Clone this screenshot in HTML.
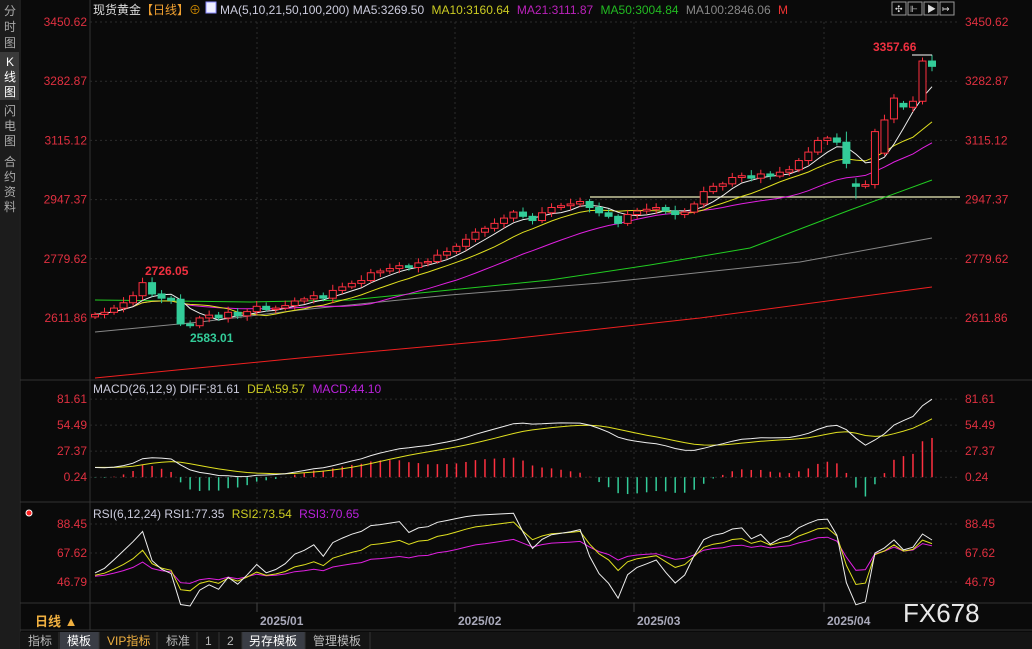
<!DOCTYPE html>
<html><head><meta charset="utf-8"><style>
body{margin:0;background:#0a0a0a;width:1032px;height:649px;overflow:hidden;font-family:"Liberation Sans","Noto Sans CJK SC",sans-serif}
svg{position:absolute;left:0;top:0}
</style></head><body>
<svg id="s" width="1032" height="649" xmlns="http://www.w3.org/2000/svg" font-family="Liberation Sans, Noto Sans CJK SC, sans-serif">
<rect width="1032" height="649" fill="#0a0a0a"/>
<rect x="0" y="0" width="19" height="649" fill="#1c1c1c"/>
<rect x="0" y="52" width="19" height="48" fill="#3a3a3a"/>
<g fill="#aaa" font-size="12" text-anchor="middle">
<text x="10" y="15">分</text><text x="10" y="31">时</text><text x="10" y="47">图</text>
<text x="10" y="66" fill="#fff">K</text><text x="10" y="81" fill="#fff">线</text><text x="10" y="96" fill="#fff">图</text>
<text x="10" y="115">闪</text><text x="10" y="130">电</text><text x="10" y="145">图</text>
<text x="10" y="166">合</text><text x="10" y="181">约</text><text x="10" y="196">资</text><text x="10" y="211">料</text>
</g>
<line x1="20" y1="0" x2="20" y2="649" stroke="#333"/>
<line x1="90" y1="0" x2="90" y2="630" stroke="#333"/>
<line x1="20" y1="380" x2="1032" y2="380" stroke="#333"/>
<line x1="20" y1="502" x2="1032" y2="502" stroke="#333"/>
<line x1="20" y1="603" x2="1032" y2="603" stroke="#333"/>
<line x1="20" y1="630" x2="1032" y2="630" stroke="#333"/>
<g id="grid" stroke="#2c2c2c" stroke-dasharray="2,3"></g>
<text x="93" y="14" font-size="12"><tspan fill="#ddd">现货黄金</tspan><tspan fill="#f0a030">【日线】</tspan><tspan fill="#c80">⊕</tspan></text>
<rect x="206" y="2" width="10" height="11" fill="#eef" stroke="#88f"/>
<text x="220" y="14" font-size="12"><tspan fill="#ccd">MA(5,10,21,50,100,200) MA5:3269.50 </tspan><tspan fill="#cc2" dx="4">MA10:3160.64 </tspan><tspan fill="#b2b" dx="4">MA21:3111.87 </tspan><tspan fill="#2b2" dx="4">MA50:3004.84 </tspan><tspan fill="#888" dx="4">MA100:2846.06 </tspan><tspan fill="#e33" dx="4">M</tspan></text>
<g fill="none" stroke="#999"><rect x="892" y="2" width="14" height="13"/><rect x="908" y="2" width="14" height="13"/><rect x="924" y="2" width="14" height="13"/><rect x="940" y="2" width="14" height="13"/></g>
<g fill="#ddd" font-size="9"><text x="895" y="12">✣</text><text x="910" y="12">⊩</text><text x="927" y="12">▶</text><text x="942" y="12">↦</text></g>
<g id="axis" font-size="12" fill="#e03040"></g>
<line x1="590" y1="197" x2="960" y2="197" stroke="#eeeebb" stroke-width="1.2"/>
<g id="ma" fill="none" stroke-width="1"></g>
<g id="candles"></g>
<text x="145" y="275" font-size="12" fill="#f03040" font-weight="bold">2726.05</text>
<text x="190" y="342" font-size="12" fill="#3c9" font-weight="bold">2583.01</text>
<text x="873" y="51" font-size="12" fill="#f03040" font-weight="bold">3357.66</text>
<line x1="912" y1="55" x2="932" y2="55" stroke="#fff"/>
<g id="macd"></g>
<text x="93" y="393" font-size="12"><tspan fill="#ccd">MACD(26,12,9) DIFF:81.61 </tspan><tspan fill="#cc2" dx="4">DEA:59.57 </tspan><tspan fill="#b2d" dx="4">MACD:44.10</tspan></text>
<g id="rsi"></g>
<circle cx="29" cy="513" r="3" fill="#f22" stroke="#fff"/>
<text x="93" y="518" font-size="12"><tspan fill="#ccd">RSI(6,12,24) RSI1:77.35 </tspan><tspan fill="#cc2" dx="4">RSI2:73.54 </tspan><tspan fill="#b2d" dx="4">RSI3:70.65</tspan></text>
<text x="35" y="626" font-size="13" fill="#f0b040" font-weight="bold">日线 ▲</text>
<g font-size="12" fill="#aab" font-weight="bold"><text x="260" y="625">2025/01</text><text x="458" y="625">2025/02</text><text x="637" y="625">2025/03</text><text x="827" y="625">2025/04</text></g>
<g stroke="#444"><line x1="257" y1="603" x2="257" y2="612"/><line x1="455" y1="603" x2="455" y2="612"/><line x1="634" y1="603" x2="634" y2="612"/><line x1="824" y1="603" x2="824" y2="612"/></g>
<text x="903" y="622" font-size="26" fill="#e8e8e8">FX678</text>
<rect x="20" y="632" width="1012" height="17" fill="#141414"/>
<rect x="60" y="632" width="39" height="17" fill="#3a3d45"/>
<rect x="242" y="632" width="63" height="17" fill="#3a3d45"/>
<g font-size="12" fill="#bbb"><text x="28" y="645">指标</text><text x="67" y="645" fill="#fff">模板</text><text x="107" y="645" fill="#f0b040">VIP指标</text><text x="166" y="645">标准</text><text x="205" y="645">1</text><text x="227" y="645">2</text><text x="249" y="645" fill="#fff">另存模板</text><text x="313" y="645">管理模板</text></g>
<g stroke="#333"><line x1="59" y1="632" x2="59" y2="649"/><line x1="99" y1="632" x2="99" y2="649"/><line x1="157" y1="632" x2="157" y2="649"/><line x1="197" y1="632" x2="197" y2="649"/><line x1="219" y1="632" x2="219" y2="649"/><line x1="242" y1="632" x2="242" y2="649"/><line x1="305" y1="632" x2="305" y2="649"/><line x1="370" y1="632" x2="370" y2="649"/></g>
</svg>
<script>
const NS="http://www.w3.org/2000/svg";
function el(p,t,a){const e=document.createElementNS(NS,t);for(const k in a)e.setAttribute(k,a[k]);document.getElementById(p).appendChild(e);return e;}
function txt(p,x,y,s,anchor){const e=el(p,'text',{x:x,y:y,'text-anchor':anchor||'start'});e.textContent=s;}
const py=p=>22+(3450.62-p)*0.3529;
[3450.62,3282.87,3115.12,2947.37,2779.62,2611.86].forEach(v=>{const y=py(v);txt('axis',87,y+4,v.toFixed(2),'end');txt('axis',965,y+4,v.toFixed(2));el('grid','line',{x1:90,y1:y,x2:957,y2:y});});
const my=v=>477.2-(v-0.24)*0.959;
[81.61,54.49,27.37,0.24].forEach(v=>{const y=my(v);txt('axis',87,y+4,v.toFixed(2),'end');txt('axis',965,y+4,v.toFixed(2));el('grid','line',{x1:90,y1:y,x2:957,y2:y});});
const ry=v=>524-(v-88.45)*1.392;
[88.45,67.62,46.79].forEach(v=>{const y=ry(v);txt('axis',87,y+4,v.toFixed(2),'end');txt('axis',965,y+4,v.toFixed(2));el('grid','line',{x1:90,y1:y,x2:957,y2:y});});
[257,455,634,824].forEach(x=>el('grid','line',{x1:x,y1:22,x2:x,y2:603}));
const C=[2622,2628,2640,2655,2675,2712,2680,2668,2662,2595,2590,2612,2620,2612,2628,2618,2630,2645,2636,2640,2647,2660,2666,2675,2668,2690,2700,2710,2718,2740,2745,2752,2760,2755,2768,2772,2790,2800,2815,2835,2855,2866,2880,2895,2912,2900,2888,2910,2925,2930,2935,2942,2925,2910,2900,2880,2905,2915,2920,2925,2915,2905,2912,2935,2970,2985,2992,3010,3015,3008,3020,3014,3025,3032,3058,3082,3115,3122,3110,3050,2985,2990,3140,3173,3235,3210,3226,3340,3325];
const O=C.map((c,i)=>i?C[i-1]:2615);
O[9]=2665;O[82]=2990;O[83]=3079;O[84]=3176;O[85]=3220;O[86]=3209;O[87]=3226;O[88]=3340;O[79]=3110;O[80]=2992;
const n=C.length,x0=95,dx=(932-95)/(n-1);
const X=i=>x0+i*dx;
for(let i=0;i<n;i++){const o=O[i],c=C[i],up=c>=o;let h=Math.max(o,c)+6+(i*7%11),l=Math.min(o,c)-6-(i*5%9);
if(i==5)h=2726.05;if(i==10)l=2583.01;if(i==88)h=3357.66;if(i==79)h=3140;if(i==80)l=2950;
const col=up?'#ff3040':'#3c9';const x=X(i);
el('candles','line',{x1:x,y1:py(h),x2:x,y2:py(l),stroke:col});
const top=py(Math.max(o,c)),bh=Math.max(1,py(Math.min(o,c))-top);
el('candles','rect',{x:x-3.5,y:top,width:7,height:bh,fill:up?'#0a0a0a':col,stroke:col});}
function ma(k){return C.map((_,i)=>{const s=C.slice(Math.max(0,i-k+1),i+1);return s.reduce((a,b)=>a+b,0)/s.length;});}
function poly(g,pts,col,w){el(g,'polyline',{points:pts.map(p=>p[0].toFixed(1)+','+p[1].toFixed(1)).join(' '),stroke:col,fill:'none','stroke-width':w||1});}
poly('ma',[[95,378],[300,358],[500,340],[700,318],[932,287]],'#f02020');
poly('ma',[[95,332],[200,322],[300,310],[450,295],[600,283],[800,262],[932,238]],'#888');
poly('ma',[[95,300],[250,302],[350,300],[450,290],[550,280],[650,265],[750,248],[850,210],[932,180]],'#22cc22');
poly('ma',ma(21).map((v,i)=>[X(i),py(v)]),'#e020e0');
poly('ma',ma(10).map((v,i)=>[X(i),py(v)]),'#e0e020');
poly('ma',ma(5).map((v,i)=>[X(i),py(v)]),'#eee');
function ema(a,k){const r=[];let e=a[0];a.forEach((v,i)=>{e=i?e+(v-e)*2/(k+1):v;r.push(e);});return r;}
const pre=Array(40).fill(0).map((v,i)=>2560+i*1.8).concat(C);
const e12=ema(pre,12),e26=ema(pre,26);let dif=e12.map((v,i)=>v-e26[i]);const dea=ema(dif,9);
const D=dif.slice(40),E=dea.slice(40);
const sc=81.61/Math.max(...D);
for(let i=0;i<n;i++){const m=(D[i]-E[i])*2*sc*1.0;const x=X(i);el('macd','line',{x1:x,y1:my(0.24),x2:x,y2:my(0.24+m),stroke:m>=0?'#ff3040':'#3c9','stroke-width':1.5});}
poly('macd',E.map((v,i)=>[X(i),my(v*sc)]),'#e0e020');
poly('macd',D.map((v,i)=>[X(i),my(v*sc)]),'#eee');
function rsi(k){const r=[];let ag=0,al=0;const P=[];for(let j=0;j<60;j++)P.push(2615+(j%2?9:-9));P.push(2615);C.forEach(c=>P.push(c));
for(let i=1;i<P.length;i++){const d=P[i]-P[i-1];ag=(ag*(k-1)+Math.max(d,0))/k;al=(al*(k-1)+Math.max(-d,0))/k;if(i>60)r.push(100*ag/(ag+al+1e-9));}return r;}
const tr=v=>50+(v-50)*0.95;
poly('rsi',rsi(24).map((v,i)=>[X(i),Math.min(610,ry(tr(v)))]),'#e020e0');
poly('rsi',rsi(12).map((v,i)=>[X(i),Math.min(610,ry(tr(v)))]),'#e0e020');
poly('rsi',rsi(6).map((v,i)=>[X(i),Math.min(610,ry(tr(v)))]),'#eee');
</script>
</body></html>
